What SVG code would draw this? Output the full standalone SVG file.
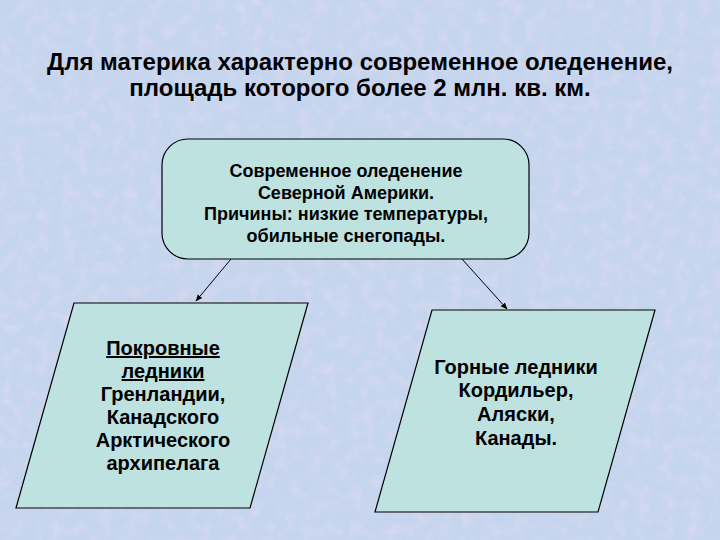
<svg xmlns="http://www.w3.org/2000/svg" width="720" height="540" viewBox="0 0 720 540">
<defs>
<style>
.t{font-family:"Liberation Sans",Arial,sans-serif;font-weight:bold;fill:#000;text-anchor:middle}
.title{font-size:24px}
.b{font-size:18px}
.p{font-size:20px}
.shape{fill:#bde2e0;stroke:#000;stroke-width:1.2}
.conn{stroke:#000;stroke-width:1;fill:none;marker-end:url(#ah)}
</style>
<marker id="ah" viewBox="0 0 10 10" refX="9" refY="5" markerWidth="7" markerHeight="7" orient="auto" markerUnits="userSpaceOnUse">
<path d="M0,1 L10,5 L0,9 z" fill="#000"/>
</marker>
<filter id="tex" x="0" y="0" width="100%" height="100%">
<feTurbulence type="fractalNoise" baseFrequency="0.08" numOctaves="3" seed="4"/>
<feColorMatrix type="matrix" values="0 0 0 0 0.88  0 0 0 0 0.74  0 0 0 0 0.9  0 0 0 1.5 -0.68"/>
</filter>
</defs>
<rect width="720" height="540" fill="#c6d5ee"/>
<rect width="720" height="540" filter="url(#tex)" opacity="0.55"/>
<g id="title">
<text class="t title" x="360" y="70">Для материка характерно современное оледенение,</text>
<text class="t title" x="360" y="96">площадь которого более 2 млн. кв. км.</text>
</g>
<g id="connectors">
<line class="conn" x1="231" y1="259" x2="196" y2="301"/>
<line class="conn" x1="462" y1="259" x2="507" y2="309"/>
</g>
<g id="node-main">
<rect class="shape" x="162" y="139" width="367" height="120" rx="26" ry="26"/>
<text class="t b" x="346" y="177">Современное оледенение</text>
<text class="t b" x="346" y="199">Северной Америки.</text>
<text class="t b" x="346" y="220">Причины: низкие температуры,</text>
<text class="t b" x="346" y="242">обильные снегопады.</text>
</g>
<g id="node-left">
<polygon class="shape" points="74,303 308,303 250,508 16,508"/>
<text class="t p" x="163" y="355" text-decoration="underline">Покровные</text>
<text class="t p" x="163" y="378" text-decoration="underline">ледники</text>
<text class="t p" x="163" y="401">Гренландии,</text>
<text class="t p" x="163" y="424">Канадского</text>
<text class="t p" x="163" y="447">Арктического</text>
<text class="t p" x="163" y="470">архипелага</text>
</g>
<g id="node-right">
<polygon class="shape" points="432,310 655,310 598,512 375,512"/>
<text class="t p" x="516" y="374">Горные ледники</text>
<text class="t p" x="516" y="397">Кордильер,</text>
<text class="t p" x="516" y="421">Аляски,</text>
<text class="t p" x="516" y="445">Канады.</text>
</g>
</svg>
